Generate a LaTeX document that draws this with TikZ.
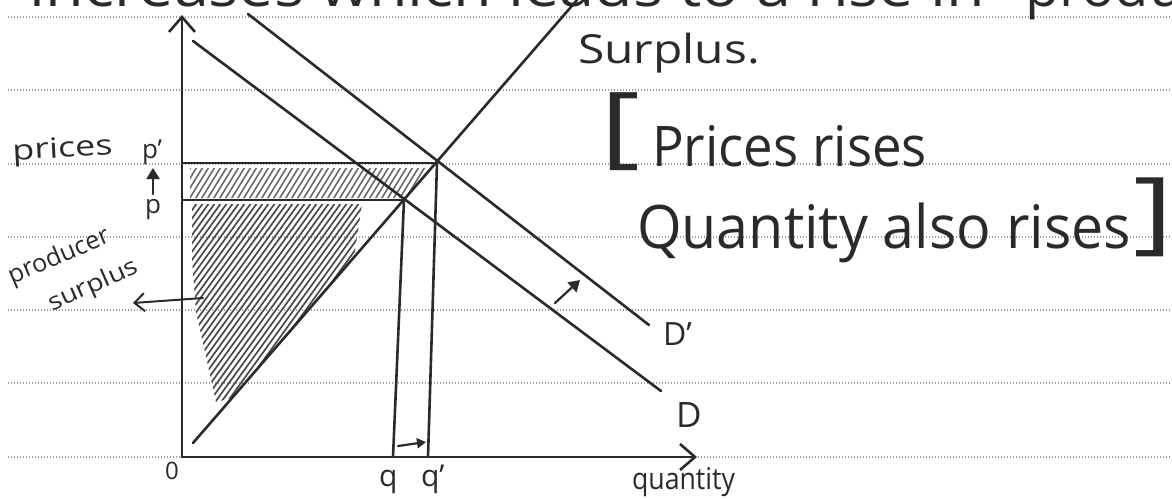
\documentclass[tikz,border=0pt]{standalone}
\usepackage{fontspec}
\setmainfont{Open Sans}
\usetikzlibrary{arrows.meta}
\definecolor{ink}{HTML}{2A2A2A}
\definecolor{rulegray}{HTML}{9A9A9A}
\definecolor{hatchlight}{HTML}{6A6A6A}
\definecolor{hatchdark}{HTML}{4A4A4A}
\newcommand\hwtext[3]{\resizebox{#1}{\height}{\fontsize{#2}{#2}\selectfont #3}}
\newcommand\hwsize[2]{{\fontsize{#1}{#1}\selectfont #2}}
\begin{document}
\begin{tikzpicture}[x=1pt,y=-1pt,
  ruled/.style={color=rulegray, line width=1.4pt, dash pattern=on 1.1pt off 1.9pt},
  graphline/.style={draw=ink, line width=2.6pt, line cap=round},
  axisline/.style={draw=ink, line width=2.9pt, line cap=round, -{Straight Barb[length=15pt,width=26pt,line width=2.6pt]}},
  smallarrow/.style={draw=ink, line width=2.2pt, line cap=round, -{Triangle[length=11pt,width=13pt]}},
  openarrow/.style={draw=ink, line width=2pt, line cap=round, -{Straight Barb[length=10pt,width=18pt,line width=2pt]}},
  lbl/.style={text=ink, inner sep=0pt, outer sep=0pt, anchor=base west},
  bandhatch/.style={draw=hatchlight, line width=1.6pt, line cap=round},
  trihatch/.style={draw=hatchdark, line width=1.7pt, line cap=round},
]
\useasboundingbox (0,0) rectangle (1172,498);
\clip (0,0) rectangle (1172,498);
\fill[white] (0,0) rectangle (1172,498);

% ruled paper lines
\foreach \yy in {17,90,164,237,310,383,457}
  \draw[ruled] (8,\yy) -- (1172,\yy);

% key points
\coordinate (O) at (182,457);
\coordinate (Ytop) at (182,15);
\coordinate (Xend) at (697,457);
\coordinate (S1) at (193,443);
\coordinate (S2) at (577,0);
\coordinate (D1) at (193,41);
\coordinate (D2) at (661,391);
\coordinate (Dp1) at (248,14);
\coordinate (Dp2) at (649,325);
\coordinate (E) at (404,200);
\coordinate (E1) at (437,163);
\coordinate (Pax) at (183,200);
\coordinate (P1ax) at (183,163);
\coordinate (Q) at (393,457);
\coordinate (Q1) at (428,457);

% hatching of the producer surplus
\begin{scope}
  \clip (190,168) -- (428,168) -- (405,198) -- (190,198) -- cycle;
  \foreach \c in {-200,-194,...,460}
    \draw[bandhatch] (\c,470) -- ({\c+290},0);
\end{scope}
\begin{scope}
  \clip (192,204) -- (362,204) -- (354,258) -- (318,300) -- (232,398)
        -- (216,402) -- (205,352) -- (196,312) -- (192,260) -- cycle;
  \foreach \c in {-200,-194,...,460}
    \draw[trihatch] (\c,470) -- ({\c+340},0);
\end{scope}

% axes
\draw[axisline] (O) -- (Ytop);
\draw[axisline] (O) -- (Xend);

% supply and demand
\draw[graphline] (S1) -- (S2);
\draw[graphline] (D1) -- (D2);
\draw[graphline] (Dp1) -- (Dp2);

% price and quantity lines
\draw[graphline] (P1ax) -- (E1);
\draw[graphline] (Pax) -- (E);
\draw[graphline] (E) -- (Q);
\draw[graphline] (E1) -- (Q1);

% small arrows
\coordinate (pa1) at (153,194);
\coordinate (pa2) at (153,168);
\draw[smallarrow] (pa1) -- (pa2);
\coordinate (qa1) at (398,446);
\coordinate (qa2) at (426,442);
\draw[smallarrow, -{Triangle[length=9pt,width=10pt]}] (qa1) -- (qa2);
\coordinate (da1) at (555,303);
\coordinate (da2) at (580,280);
\draw[smallarrow] (da1) -- (da2);
\coordinate (sa1) at (203,298);
\coordinate (sa2) at (133,303);
\draw[openarrow] (sa1) -- (sa2);

% labels on the graph
\node[lbl, rotate=3] (lprices) at (13,160) {\hwtext{100pt}{28}{prices}};
\node[lbl] (lp1) at (142,158) {\hwsize{26}{p'}};
\node[lbl] (lp) at (145,213) {\hwsize{26}{p}};
\node[lbl, rotate=23] (lproducer) at (12,284) {\hwtext{108pt}{25}{producer}};
\node[lbl, rotate=24] (lsurplus) at (52,311) {\hwtext{96pt}{24}{surplus}};
\node[text=ink, inner sep=0pt] (lzero) at (172,471) {\hwsize{24}{0}};
\node[lbl] (lq) at (379,486) {\hwsize{30}{q}};
\node[lbl] (lq1) at (421,486) {\hwsize{30}{q'}};
\node[lbl] (lDp) at (663,345) {\hwsize{32}{D'}};
\node[lbl] (lD) at (676,427) {\hwsize{35}{D}};
\node[lbl] (lquantity) at (632,489) {\hwtext{103pt}{30}{quantity}};

% notes on the right
\node[lbl] (ltop) at (30,6) {\hwtext{955pt}{56}{increases which leads to a rise in}};
\node[lbl] (ltop2) at (1025,6) {\hwsize{56}{producer}};
\node[lbl] (lsurp) at (578,63) {\hwtext{182pt}{40}{Surplus.}};
\node[text=ink, inner sep=0pt, anchor=north west] (lbrL) at (600,92) {\resizebox*{40pt}{78pt}{\fontsize{60}{60}\selectfont [}};
\node[lbl] (lpr) at (652,166) {\hwtext{275pt}{56}{Prices rises}};
\node[lbl] (lqa) at (637,248) {\hwtext{494pt}{60}{Quantity also rises}};
\node[text=ink, inner sep=0pt, anchor=north west] (lbrR) at (1133,178) {\resizebox*{40pt}{79pt}{\fontsize{60}{60}\selectfont ]}};
\end{tikzpicture}
\end{document}
